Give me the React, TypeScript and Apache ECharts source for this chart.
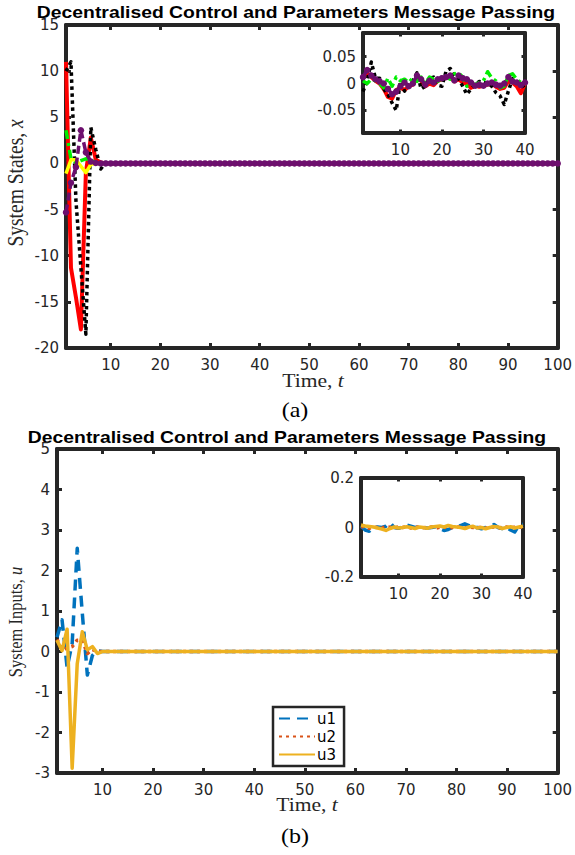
import React, { useEffect, useRef } from "react";
import * as echarts from "echarts";

// ---------- tick labels ----------
const timeTicks = [10, 20, 30, 40, 50, 60, 70, 80, 90, 100];
const insetTimeTicks = [10, 20, 30, 40];
const stateTicks = [-20, -15, -10, -5, 0, 5, 10, 15];
const inputTicks = [-3, -2, -1, 0, 1, 2, 3, 4, 5];
const insetStateTicks = [-0.05, 0, 0.05];
const insetInputTicks = [-0.2, 0, 0.2];

// ---------- (a) main states, t = 1,2,... (then flat at 0 up to t = 100) ----------
const redStates = [11, -11.3, -14.5, -18, -1, 2.8, 0.4, 0.1, 0];
const blackStates = [10, 11, -4, -11.3, -18.5, 3.9, 1.5, -0.6, 0.1, 0];
const greenStates = [3.6, 0.5, 0.1, 0.3, 0.5, 0.4, 0.1, 0];
const yellowStates = [-1.1, 0.4, 0.4, -0.3, -1.0, -0.1, 0];
const purpleStates = [
  -5.3, -2.1, -0.4, 3.6, 1.2, 0.2, 0.05, 0, 0, 0,
  0, 0, 0, 0, 0, 0, 0, 0, 0, 0,
  0, 0, 0, 0, 0, 0, 0, 0, 0, 0,
  0, 0, 0, 0, 0, 0, 0, 0, 0, 0,
  0, 0, 0, 0, 0, 0, 0, 0, 0, 0,
  0, 0, 0, 0, 0, 0, 0, 0, 0, 0,
  0, 0, 0, 0, 0, 0, 0, 0, 0, 0,
  0, 0, 0, 0, 0, 0, 0, 0, 0, 0,
  0, 0, 0, 0, 0, 0, 0, 0, 0, 0,
  0, 0, 0, 0, 0, 0, 0, 0, 0, 0,
];

// ---------- (a) inset, t = 1..40 ----------
const redInset = [0.01, 0.02, 0.012, 0.005, 0.0, -0.01, -0.025, -0.028, -0.012, -0.008,
  -0.012, -0.005, -0.002, 0.01, 0.005, -0.005, 0.0, -0.003, 0.005, 0.008,
  0.01, 0.012, 0.004, 0.008, 0.002, 0.0, -0.008, -0.004, -0.006, -0.004,
  -0.002, 0.0, -0.006, -0.01, -0.008, 0.005, 0.002, -0.005, -0.018, 0.0];
const blackInset = [-0.015, 0.005, 0.04, 0.01, 0.01, -0.01, -0.02, -0.036, -0.05, 0.004,
  -0.014, -0.002, 0.005, 0.02, -0.01, -0.005, 0.01, 0.012, -0.003, -0.005,
  0.023, 0.028, 0.015, 0.009, -0.005, -0.02, -0.01, -0.002, 0.004, 0.002,
  0.001, -0.005, -0.017, -0.023, -0.039, -0.014, 0.009, 0.004, 0.001, -0.01];
const greenInset = [0.005, 0.0, 0.008, 0.005, 0.0, -0.008, 0.01, -0.005, 0.012, 0.005,
  0.008, 0.002, 0.01, 0.004, 0.012, 0.0, 0.012, 0.008, 0.004, 0.01,
  0.012, 0.008, 0.018, 0.02, 0.012, -0.005, 0.0, -0.002, 0.002, 0.005,
  0.022, 0.01, 0.005, -0.008, -0.005, 0.015, 0.018, 0.008, 0.002, 0.0];
const purpleInset = [0.012, 0.025, 0.015, 0.008, 0.004, 0.0, -0.01, -0.02, -0.015, -0.005,
  0.002, -0.005, 0.0, 0.015, 0.008, -0.002, 0.005, 0.002, 0.008, 0.01,
  0.012, 0.015, 0.006, 0.015, 0.01, 0.008, 0.002, -0.004, -0.002, -0.004,
  0.0, 0.002, -0.002, -0.004, 0.0, 0.012, 0.004, 0.002, -0.003, 0.002];

// ---------- (b) main inputs ----------
const u1Inputs = [0.35, 0.78, -0.4, 0.2, 2.55, 0.95, -0.58, -0.1, 0.02, 0];
const u2Inputs = [0.3, 0.05, 0.08, 0.12, 0.28, 0.28, -0.05, 0.05, 0];
const u3Inputs = [0.28, 0.02, 0.55, -2.88, -0.3, 0.49, 0.04, 0.12, -0.05, 0];

// ---------- (b) inset, t = 1..40 ----------
const u1Inset = [0.005, -0.01, -0.015, 0.0, 0.002, 0.0, 0.005, 0.02, 0.0, -0.003,
  0.002, 0.01, 0.005, 0.0, 0.002, 0.0, -0.002, 0.0, 0.003, -0.005,
  -0.012, -0.008, 0.0, 0.002, 0.008, 0.015, 0.008, -0.003, 0.0, -0.005,
  0.0, 0.005, 0.012, 0.0, -0.004, 0.002, -0.01, -0.018, 0.008, 0.013];
const u2Inset = [0.004, 0.002, -0.003, 0.002, 0.0, -0.002, 0.003, 0.001, -0.002, 0.002,
  0.0, 0.003, -0.002, 0.001, 0.002, -0.001, 0.0, 0.002, -0.003, 0.001,
  0.002, -0.002, 0.0, 0.003, 0.001, -0.002, 0.002, 0.0, -0.001, 0.002,
  -0.003, 0.001, 0.002, -0.002, 0.0, 0.002, -0.001, 0.001, 0.003, 0.0];
const u3Inset = [0.01, 0.006, 0.004, 0.002, -0.002, -0.006, -0.012, -0.004, 0.002, -0.002,
  0.0, 0.003, 0.0, -0.004, 0.002, 0.0, -0.003, 0.002, 0.004, 0.006,
  0.002, 0.008, 0.004, 0.002, 0.0, -0.004, 0.002, 0.005, -0.002, 0.0,
  -0.005, 0.0, 0.004, 0.002, -0.004, 0.0, 0.003, -0.002, 0.002, 0.005];

const TITLE = "Decentralised Control and Parameters Message Passing";
const AX = "#262626";
const TICK_FONT = "DejaVu Sans";

const pairs = (vals: number[], endT?: number) => {
  const p: number[][] = vals.map((v, i) => [i + 1, v]);
  if (endT !== undefined) p.push([endT, 0]);
  return p;
};

function xAx(grid: number, min: number, max: number, ticks: number[], position: string, showLabel: boolean, tickLen: number) {
  return {
    type: "value", gridIndex: grid, position, min, max,
    axisLine: { show: true, onZero: false, lineStyle: { color: AX, width: 4 } },
    axisTick: { show: true, inside: true, length: tickLen, lineStyle: { color: AX, width: 3 }, customValues: ticks },
    axisLabel: { show: showLabel, customValues: ticks, color: AX, fontFamily: TICK_FONT, fontSize: 15, margin: 9 },
    splitLine: { show: false },
  };
}
function yAx(grid: number, min: number, max: number, ticks: number[], position: string, showLabel: boolean, tickLen: number) {
  return {
    type: "value", gridIndex: grid, position, min, max,
    axisLine: { show: true, onZero: false, lineStyle: { color: AX, width: 4 } },
    axisTick: { show: true, inside: true, length: tickLen, lineStyle: { color: AX, width: 3 }, customValues: ticks },
    axisLabel: { show: showLabel, customValues: ticks, color: AX, fontFamily: TICK_FONT, fontSize: 15, margin: 7,
      formatter: (v: number) => String(Math.round(v * 1000) / 1000) },
    splitLine: { show: false },
  };
}

function line(name: string, data: number[][], axis: number, color: string, width: number, type: any, extra: any = {}) {
  return {
    type: "line", name, data, xAxisIndex: axis, yAxisIndex: axis,
    symbol: "none", showSymbol: false, clip: true,
    lineStyle: { color, width, type, cap: "butt", join: "round" },
    itemStyle: { color },
    ...extra,
  };
}

const RED = "#ff0000", BLACK = "#000000", GREEN = "#00ee00", YELLOW = "#ffff00", PURPLE = "#6d0f6e";
const BLUE = "#0072BD", ORANGE = "#D95319", GOLD = "#EDB120";

function serifLabel(x: number, y: number, up: string, it: string, size: number, rotated: boolean, stretch: number) {
  const base: any = { type: "text", x, y };
  if (rotated) { base.rotation = Math.PI / 2; base.scaleY = stretch; } else { base.scaleX = stretch; }
  base.style = {
    text: "{r|" + up + "}{i|" + it + "}", fill: AX,
    align: "center", verticalAlign: "middle", textAlign: "center", textVerticalAlign: "middle",
    rich: {
      r: { fontFamily: "Liberation Serif", fontSize: size, fill: AX },
      i: { fontFamily: "Liberation Serif", fontStyle: "italic", fontSize: size, fill: AX },
    },
  };
  return base;
}

export default function App() {
  const ref = useRef<HTMLDivElement>(null);
  useEffect(() => {
    if (!ref.current) return;
    const chart = echarts.init(ref.current, undefined, { renderer: "svg" });
    const purpleExtra = (size: number) => ({ symbol: "circle", showSymbol: true, symbolSize: size, itemStyle: { color: PURPLE } });
    const serif = "Liberation Serif";
    const option: any = {
      animation: false,
      backgroundColor: "#ffffff",
      grid: [
        { left: 66, top: 25, width: 492, height: 323, show: true, backgroundColor: "#fff", borderWidth: 0 },
        { left: 363, top: 33, width: 162, height: 100, show: true, backgroundColor: "#fff", borderWidth: 0 },
        { left: 57, top: 449, width: 501, height: 324, show: true, backgroundColor: "#fff", borderWidth: 0 },
        { left: 361, top: 478, width: 162, height: 99, show: true, backgroundColor: "#fff", borderWidth: 0 },
      ],
      xAxis: [
        xAx(0, 1, 100, timeTicks, "bottom", true, 5),
        xAx(0, 1, 100, timeTicks, "top", false, 5),
        xAx(1, 1, 40, insetTimeTicks, "bottom", true, 3.5),
        xAx(1, 1, 40, insetTimeTicks, "top", false, 3.5),
        xAx(2, 1, 100, timeTicks, "bottom", true, 5),
        xAx(2, 1, 100, timeTicks, "top", false, 5),
        xAx(3, 1, 40, insetTimeTicks, "bottom", true, 3.5),
        xAx(3, 1, 40, insetTimeTicks, "top", false, 3.5),
      ],
      yAxis: [
        yAx(0, -20, 15, stateTicks, "left", true, 5),
        yAx(0, -20, 15, stateTicks, "right", false, 5),
        yAx(1, -0.092, 0.094, insetStateTicks, "left", true, 3.5),
        yAx(1, -0.092, 0.094, insetStateTicks, "right", false, 3.5),
        yAx(2, -3, 5, inputTicks, "left", true, 5),
        yAx(2, -3, 5, inputTicks, "right", false, 5),
        yAx(3, -0.2, 0.2, insetInputTicks, "left", true, 3.5),
        yAx(3, -0.2, 0.2, insetInputTicks, "right", false, 3.5),
      ],
      legend: {
        data: ["u1", "u2", "u3"], orient: "vertical", left: 273, top: 707,
        itemWidth: 36, itemHeight: 14, itemGap: 3, padding: [4, 8, 4, 5],
        borderColor: AX, borderWidth: 2.5, backgroundColor: "#fff", selectedMode: false,
        itemStyle: { opacity: 0 },
        textStyle: { fontFamily: TICK_FONT, fontSize: 15, color: "#000", padding: [0, 0, 0, -3] },
      },
      series: [
        line("x1", pairs(redStates, 100), 0, RED, 4, "solid"),
        line("x2", pairs(blackStates, 100), 0, BLACK, 3.5, [3.5, 3.5]),
        line("x3", pairs(greenStates, 100), 0, GREEN, 3.5, [9, 4, 3, 4]),
        line("x4", pairs(yellowStates, 100), 0, YELLOW, 3.5, "solid"),
        line("x5", pairs(purpleStates), 0, PURPLE, 3.5, [8, 4], purpleExtra(6.5)),
        line("x1i", pairs(redInset), 2, RED, 4, "solid"),
        line("x2i", pairs(blackInset), 2, BLACK, 3.5, [3.5, 3.5]),
        line("x3i", pairs(greenInset), 2, GREEN, 3.5, [9, 4, 3, 4]),
        line("x5i", pairs(purpleInset), 2, PURPLE, 3.5, [8, 4], purpleExtra(6.5)),
        line("u1", pairs(u1Inputs, 100), 4, BLUE, 3.5, [11, 7]),
        line("u2", pairs(u2Inputs, 100), 4, ORANGE, 3.5, [3, 4]),
        line("u3", pairs(u3Inputs, 100), 4, GOLD, 3.5, "solid"),
        line("u1", pairs(u1Inset), 6, BLUE, 3.5, [11, 7]),
        line("u2", pairs(u2Inset), 6, ORANGE, 3.5, [3, 4]),
        line("u3", pairs(u3Inset), 6, GOLD, 3.5, "solid"),
      ],
      graphic: [
        { type: "text", x: 296, y: 13, scaleX: 1.21, style: { text: TITLE, fontFamily: "Liberation Sans", fontWeight: "bold", fontSize: 16, fill: "#000", align: "center", verticalAlign: "middle", textAlign: "center", textVerticalAlign: "middle" } },
        { type: "text", x: 287, y: 438, scaleX: 1.21, style: { text: TITLE, fontFamily: "Liberation Sans", fontWeight: "bold", fontSize: 16, fill: "#000", align: "center", verticalAlign: "middle", textAlign: "center", textVerticalAlign: "middle" } },
        serifLabel(16, 183, "System States, ", "x", 19.5, true, 1.15),
        serifLabel(16, 622, "System Inputs, ", "u", 16.5, true, 1.15),
        serifLabel(313, 381, "Time, ", "t", 18, false, 1.2),
        serifLabel(307, 805, "Time, ", "t", 18, false, 1.2),
        { type: "text", x: 295, y: 410, scaleX: 1.2, style: { text: "(a)", fontFamily: serif, fontSize: 20, fill: "#000", align: "center", verticalAlign: "middle", textAlign: "center", textVerticalAlign: "middle" } },
        { type: "text", x: 295, y: 836, scaleX: 1.2, style: { text: "(b)", fontFamily: serif, fontSize: 20, fill: "#000", align: "center", verticalAlign: "middle", textAlign: "center", textVerticalAlign: "middle" } },
      ],
    };
    chart.setOption(option);
    return () => chart.dispose();
  }, []);
  return <div ref={ref} style={{ position: "absolute", left: 0, top: 0, width: 575, height: 855 }} />;
}
